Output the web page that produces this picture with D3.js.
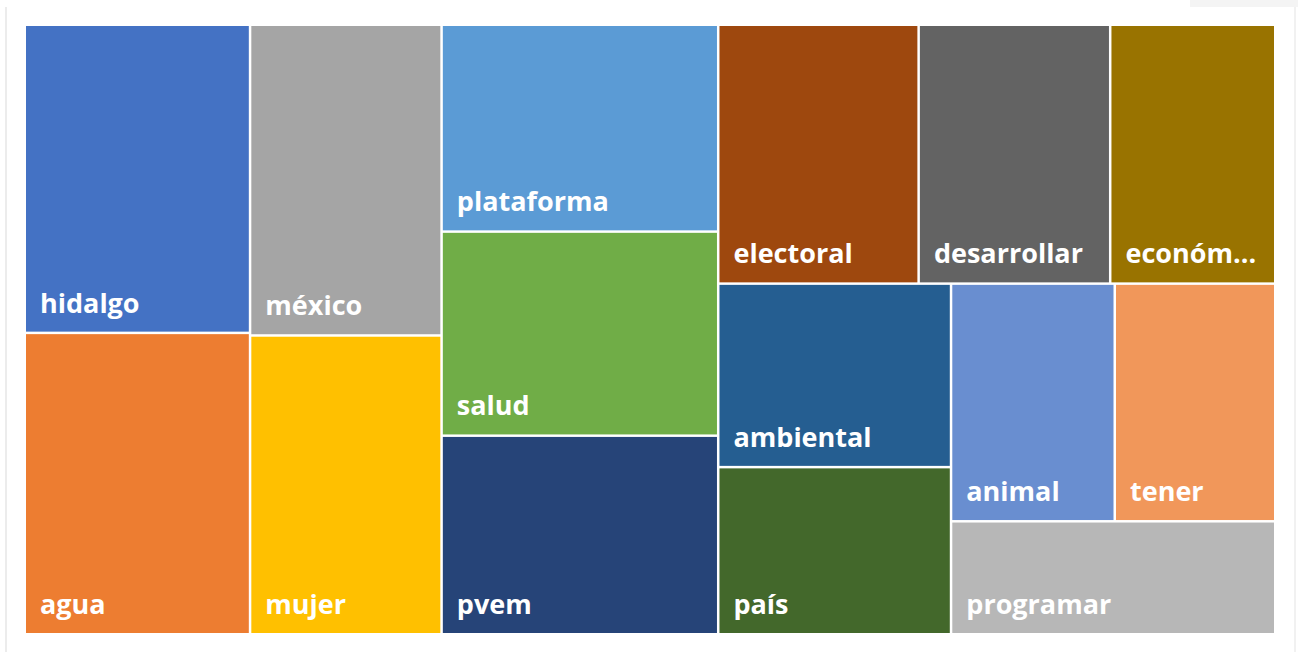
<!DOCTYPE html>
<html>
<head>
<meta charset="utf-8">
<script src="https://cdn.jsdelivr.net/npm/d3@7"></script>
<style>
    body { margin: 0; background: #ffffff; }
    svg { display: block; }
    .etiqueta { font-family: "Open Sans", "Noto Sans", sans-serif; font-weight: 700; fill: #ffffff; }
</style>
</head>
<body>
<div id="grafico"></div>
<script>
// Palabras más frecuentes y sus conteos
const palabras = ["hidalgo", "agua", "méxico", "mujer", "plataforma", "salud", "pvem",
    "electoral", "desarrollar", "económico", "ambiental", "país", "animal", "tener", "programar"];
const frecuencias = [91, 89, 78, 75, 75, 74, 72, 68, 65, 56, 56, 51, 51, 50, 48];
// Agrupación de los bloques (cómo se anidan en el mapa)
const grupos = ["a", "a", "b", "b", "c", "c", "c",
    "d/arriba", "d/arriba", "d/arriba", "d/abajo/izq", "d/abajo/izq",
    "d/abajo/der/fila", "d/abajo/der/fila", "d/abajo/der"];
const colores = ["#4472C4", "#ED7D31", "#A5A5A5", "#FFC000", "#5B9BD5", "#70AD47", "#264478",
    "#9E480E", "#636363", "#997300", "#255E91", "#43682B", "#698ED0", "#F1975A", "#B7B7B7"];

const width = 1298;
const height = 652;
const margen = { left: 26, top: 26, right: 24, bottom: 19 };

function construirArbol() {
    const raiz = { name: "raiz", children: [] };
    palabras.forEach((palabra, i) => {
        let nodo = raiz;
        grupos[i].split("/").forEach(g => {
            let hijo = nodo.children.find(c => c.name === g && c.children);
            if (!hijo) {
                hijo = { name: g, children: [] };
                nodo.children.push(hijo);
            }
            nodo = hijo;
        });
        nodo.children.push({ name: palabra, value: frecuencias[i] });
    });
    return raiz;
}

const color = d3.scaleOrdinal(palabras, colores);

const svg = d3.select("#grafico")
    .append("svg")
    .attr("width", width)
    .attr("height", height);

// Marco de la tarjeta
svg.append("rect")
    .attr("x", 1190).attr("y", 0)
    .attr("width", 108).attr("height", 7)
    .attr("fill", "#f4f4f4");
svg.append("line")
    .attr("x1", 6).attr("x2", 6).attr("y1", 7).attr("y2", height)
    .attr("stroke", "#e6e6e6").attr("stroke-width", 1.5);
svg.append("line")
    .attr("x1", 1295).attr("x2", 1295).attr("y1", 7).attr("y2", height)
    .attr("stroke", "#ececec").attr("stroke-width", 1.5);

const root = d3.hierarchy(construirArbol())
    .sum(d => d.value || 0);

d3.treemap()
    .tile(d3.treemapSliceDice)
    .size([width - margen.left - margen.right, height - margen.top - margen.bottom])
    .paddingInner(2.5)(root);

const g = svg.append("g")
    .attr("transform", `translate(${margen.left},${margen.top})`);

const hoja = g.selectAll(".hoja")
    .data(root.leaves())
    .enter()
    .append("g")
    .attr("class", "hoja")
    .attr("transform", d => `translate(${d.x0},${d.y0})`);

hoja.append("rect")
    .attr("width", d => d.x1 - d.x0)
    .attr("height", d => d.y1 - d.y0)
    .attr("fill", d => color(d.data.name));

const texto = hoja.append("text")
    .attr("class", "etiqueta")
    .attr("x", 14)
    .attr("y", d => d.y1 - d.y0 - 19)
    .style("font-size", "27px")
    .text(d => d.data.name);

// Recortar con "..." si no cabe
texto.each(function (d) {
    const t = d3.select(this);
    const disponible = d.x1 - d.x0 - 24;
    let s = d.data.name;
    while (this.getComputedTextLength() > disponible && s.length > 1) {
        s = s.slice(0, -1);
        t.text(s + "...");
    }
});
</script>
</body>
</html>
